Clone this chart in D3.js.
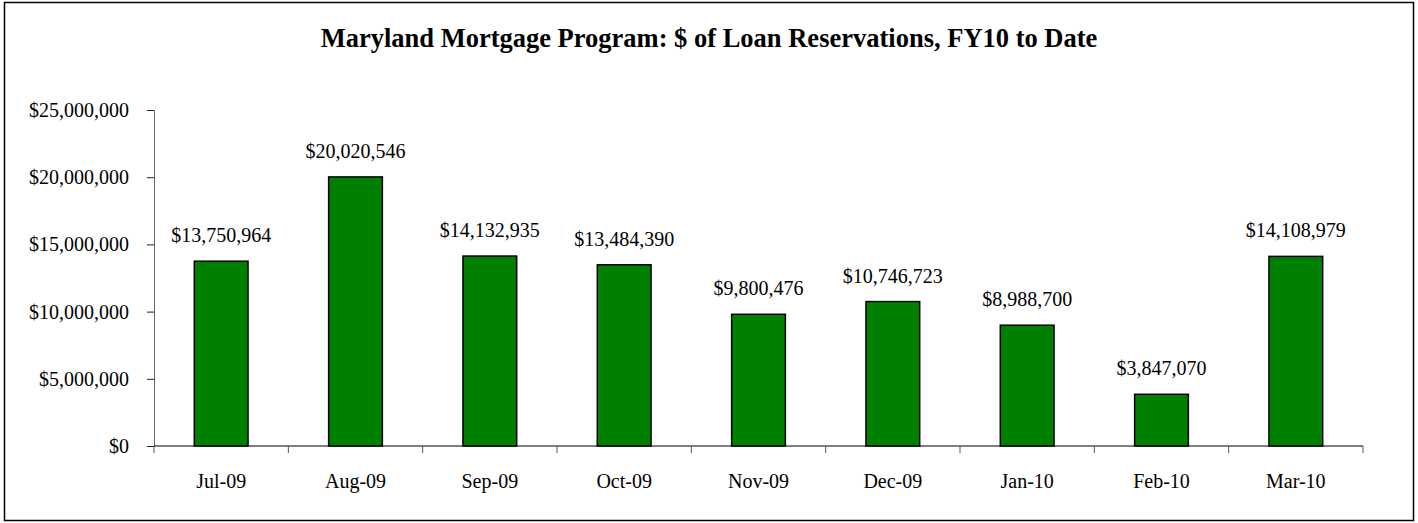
<!DOCTYPE html>
<html>
<head>
<meta charset="utf-8">
<script src="https://cdn.jsdelivr.net/npm/d3@7"></script>
<style>
  body { margin: 0; background: #fff; }
  text { font-family: "Liberation Serif", "Times New Roman", serif; }
</style>
</head>
<body>
<div id="chart"></div>
<script>
// Chart data
const months = ['Jul-09', 'Aug-09', 'Sep-09', 'Oct-09', 'Nov-09', 'Dec-09', 'Jan-10', 'Feb-10', 'Mar-10'];
const reservations = [13750964, 20020546, 14132935, 13484390, 9800476, 10746723, 8988700, 3847070, 14108979];
const yTicks = [0, 5000000, 10000000, 15000000, 20000000, 25000000];
const title = 'Maryland Mortgage Program: $ of Loan Reservations, FY10 to Date';

const W = 1418, H = 523;
const margin = { top: 110, right: 55, bottom: 77, left: 154 };
const width = W - margin.left - margin.right;
const height = H - margin.top - margin.bottom;

const svg = d3.select('#chart')
    .append('svg')
    .attr('width', W)
    .attr('height', H);

// Outer border
svg.append('rect')
    .attr('x', 4.5).attr('y', 2.5)
    .attr('width', 1409).attr('height', 518)
    .attr('fill', 'white')
    .attr('stroke', 'black')
    .attr('stroke-width', 1.5);

// Title
svg.append('text')
    .attr('x', 709)
    .attr('y', 47)
    .attr('text-anchor', 'middle')
    .style('font-size', '26.5px')
    .style('font-weight', 'bold')
    .text(title);

const g = svg.append('g')
    .attr('transform', `translate(${margin.left},${margin.top})`);

// Scales
const x = d3.scaleBand()
    .domain(months)
    .range([0, width])
    .paddingInner(0.6)
    .paddingOuter(0.3);

const y = d3.scaleLinear()
    .domain([0, 25000000])
    .range([height, 0]);

const fmt = d => '$' + d3.format(',')(d);

// Y axis
const yAxis = g.append('g')
    .call(d3.axisLeft(y).tickValues(yTicks).tickFormat(fmt).tickSizeOuter(0).tickSize(7).tickPadding(18));
yAxis.select('.domain').attr('stroke', '#666');
yAxis.selectAll('.tick line').attr('stroke', '#222');
yAxis.selectAll('text')
    .style('font-size', '20px')
    .style('font-family', '"Liberation Serif", serif')
    .attr('fill', '#000');

// X axis: ticks at band boundaries
const bounds = d3.range(months.length + 1).map(i => i * width / months.length);
const xAxis = g.append('g')
    .attr('transform', `translate(0,${height})`);
xAxis.append('line')
    .attr('x1', 0).attr('x2', width)
    .attr('y1', 0).attr('y2', 0)
    .attr('stroke', 'black')
    .attr('stroke-width', 1.2);
xAxis.selectAll('line.tk')
    .data(bounds)
    .join('line')
    .attr('class', 'tk')
    .attr('x1', d => d).attr('x2', d => d)
    .attr('y1', 0).attr('y2', 7)
    .attr('stroke', '#555');
xAxis.selectAll('text')
    .data(months)
    .join('text')
    .attr('x', d => x(d) + x.bandwidth() / 2)
    .attr('y', 42)
    .attr('text-anchor', 'middle')
    .style('font-size', '20px')
    .text(d => d);

// Bars
g.selectAll('rect.bar')
    .data(months)
    .join('rect')
    .attr('class', 'bar')
    .attr('x', d => x(d))
    .attr('width', x.bandwidth())
    .attr('y', (d, i) => y(reservations[i]))
    .attr('height', (d, i) => height - y(reservations[i]))
    .attr('fill', '#008000')
    .attr('stroke', 'black')
    .attr('stroke-width', 1.5);

// Value labels
g.selectAll('text.val')
    .data(months)
    .join('text')
    .attr('class', 'val')
    .attr('x', d => x(d) + x.bandwidth() / 2)
    .attr('y', (d, i) => y(reservations[i]) - 19)
    .attr('text-anchor', 'middle')
    .style('font-size', '20px')
    .text((d, i) => fmt(reservations[i]));
</script>
</body>
</html>
